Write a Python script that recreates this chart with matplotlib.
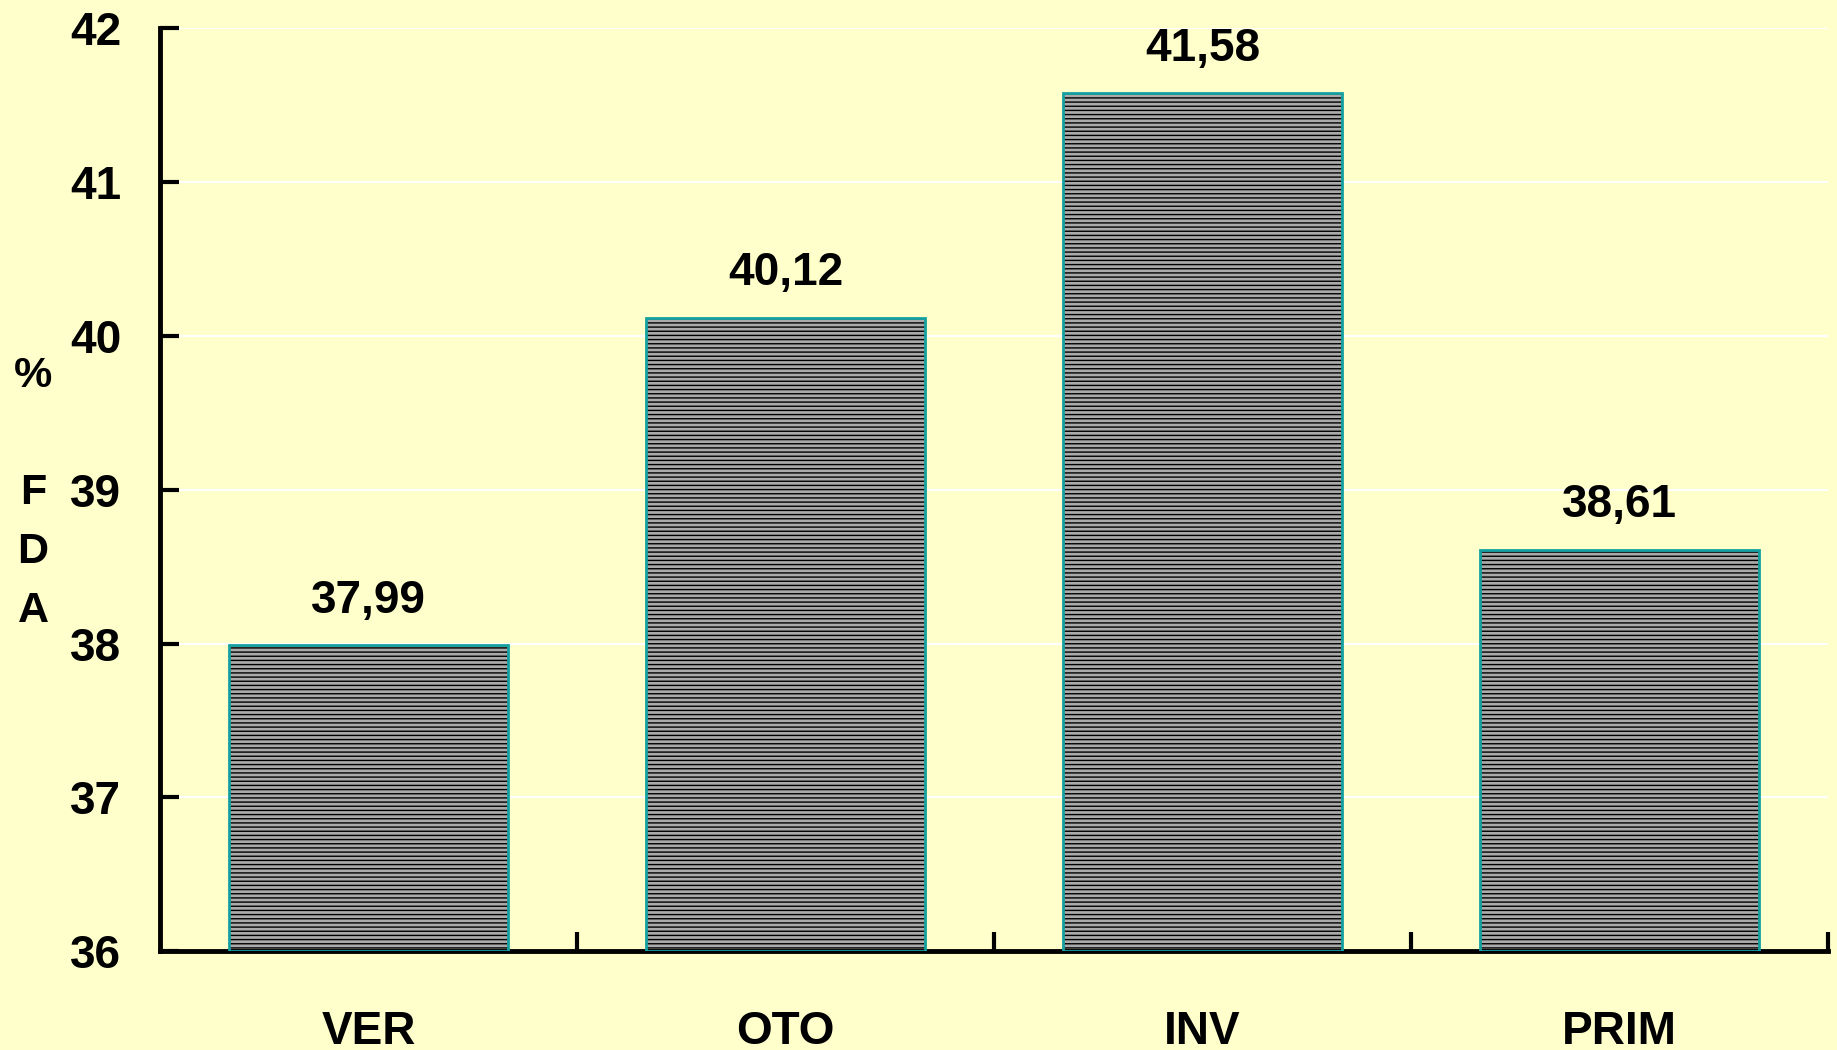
# Gráfico de barras: %FDA por estação
import matplotlib.pyplot as plt
import numpy as np

plt.rcParams['font.family'] = ['Liberation Sans', 'DejaVu Sans']
plt.rcParams['font.weight'] = 'bold'
plt.rcParams['hatch.linewidth'] = 1.0

# Dados
estacoes = ['VER', 'OTO', 'INV', 'PRIM']
valores = [37.99, 40.12, 41.58, 38.61]
rotulos = ['37,99', '40,12', '41,58', '38,61']
yticks = [36, 37, 38, 39, 40, 41, 42]

fundo = '#FFFFCC'
fig = plt.figure(figsize=(18.37, 10.5), dpi=100, facecolor=fundo)
ax = fig.add_axes([0.0871, 0.094, 0.908, 0.879])
ax.set_facecolor(fundo)

x = np.arange(len(estacoes))
largura = 0.67
# preenchimento hachurado
ax.bar(x, np.array(valores) - 36, bottom=36, width=largura, color='#aaaaaa',
       edgecolor='black', linewidth=0, hatch='----', zorder=2)
# contorno verde-azulado
ax.bar(x, np.array(valores) - 36, bottom=36, width=largura, fill=False,
       edgecolor='#14A0A0', linewidth=2, zorder=3)

for xi, v, r in zip(x, valores, rotulos):
    ax.annotate(r, (xi, v), xytext=(0, 32), textcoords='offset points',
                ha='center', va='center', fontsize=33, fontweight='bold')

ax.set_xlim(-0.5, 3.5)
ax.set_ylim(36, 42)
ax.set_yticks(yticks)
ax.set_yticklabels([str(t) for t in yticks])
ax.yaxis.grid(True, color='white', linewidth=1.5, zorder=0)
ax.set_axisbelow(True)

# ticks maiores nos limites das categorias, rótulos nos centros
ax.set_xticks([0.5, 1.5, 2.5, 3.5])
ax.set_xticklabels([])
ax.set_xticks(x, minor=True)
ax.set_xticklabels(estacoes, minor=True)
ax.tick_params(axis='x', which='major', direction='in', length=14, width=3)
ax.tick_params(axis='x', which='minor', length=0, pad=42, labelsize=33)
ax.tick_params(axis='y', direction='in', length=14, width=3, pad=28, labelsize=33)

for s in ['top', 'right']:
    ax.spines[s].set_visible(False)
for s in ['left', 'bottom']:
    ax.spines[s].set_linewidth(3.5)

fig.text(33 / 1837, 0.530, '%\n\nF\nD\nA', ha='center', va='center',
         fontsize=31, fontweight='bold', linespacing=1.6)

plt.savefig('out.png', dpi=100, facecolor=fundo)
